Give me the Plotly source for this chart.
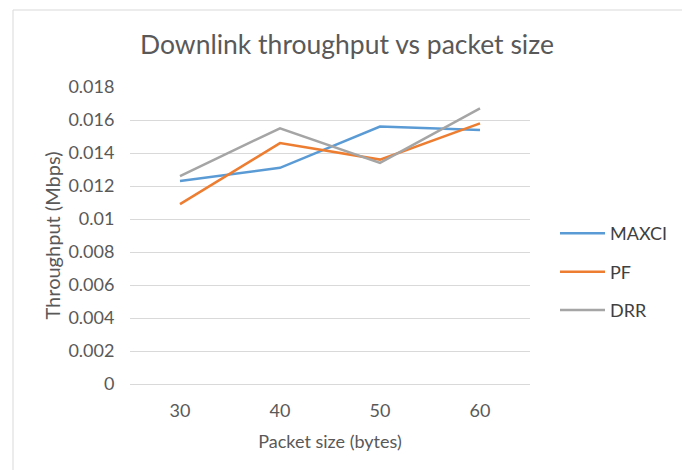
import plotly.graph_objects as go

packet_sizes = ["30", "40", "50", "60"]
maxci = [0.0123, 0.0131, 0.0156, 0.0154]
pf = [0.0109, 0.0146, 0.0136, 0.0158]
drr = [0.0126, 0.0155, 0.0134, 0.0167]
y_ticks = [0, 0.002, 0.004, 0.006, 0.008, 0.01, 0.012, 0.014, 0.016, 0.018]
y_tick_labels = ["0", "0.002", "0.004", "0.006", "0.008", "0.01", "0.012", "0.014", "0.016", "0.018"]

series = [("MAXCI", maxci, "#5B9BD5"), ("PF", pf, "#ED7D31"), ("DRR", drr, "#A5A5A5")]

FONT = "Lato"
TXT = "#595959"

fig = go.Figure()
for name, vals, col in series:
    fig.add_trace(go.Scatter(x=packet_sizes, y=vals, mode="lines", name=name,
                             legendgroup=name,
                             line=dict(color=col, width=2.5)))

L, T, W, H = 122, 79, 400, 297
fig.update_layout(
    width=690, height=470,
    margin=dict(l=L, r=690 - L - W, t=T, b=470 - T - H),
    paper_bgcolor="white", plot_bgcolor="white",
    font=dict(family=FONT, color=TXT, size=18),
    title=dict(text="Downlink throughput vs packet size", x=339 / 690, xanchor="center",
               y=1 - 37 / 470, yanchor="middle", xref="container",
               font=dict(size=26.5, color=TXT, family=FONT)),
    showlegend=True,
    legend=dict(x=1.0625, xanchor="left", y=0.377, yanchor="middle",
                font=dict(size=18, color="#404040", family=FONT),
                itemwidth=45,
                tracegroupgap=12, bgcolor="rgba(0,0,0,0)"),
    xaxis=dict(type="category", range=[-0.5, 3.5], automargin=False,
               showgrid=False, zeroline=False,
               showline=True, linecolor="#D9D9D9", linewidth=1,
               ticks="outside", ticklen=10, tickcolor="rgba(0,0,0,0)",
               tickfont=dict(size=18, color=TXT),
               title=dict(text="Packet size (bytes)", font=dict(size=18, color=TXT), standoff=15)),
    yaxis=dict(range=[0, 0.018], tickvals=y_ticks, ticktext=y_tick_labels, automargin=False,
               showgrid=True, gridcolor="#D9D9D9", gridwidth=1,
               zeroline=False, showline=False,
               ticks="outside", ticklen=11, tickcolor="rgba(0,0,0,0)",
               tickfont=dict(size=18, color=TXT),
               title=dict(text="Throughput (Mbps)", font=dict(size=20, color=TXT), standoff=2)),
)

# chart-area border
fig.add_shape(type="rect", xref="paper", yref="paper",
              x0=(5 - L) / W, x1=(677 - L) / W,
              y0=(T + H - 480) / H, y1=(T + H - 2) / H,
              line=dict(color="#D9D9D9", width=1), fillcolor="rgba(0,0,0,0)", layer="below")

fig.write_html("out.html")
